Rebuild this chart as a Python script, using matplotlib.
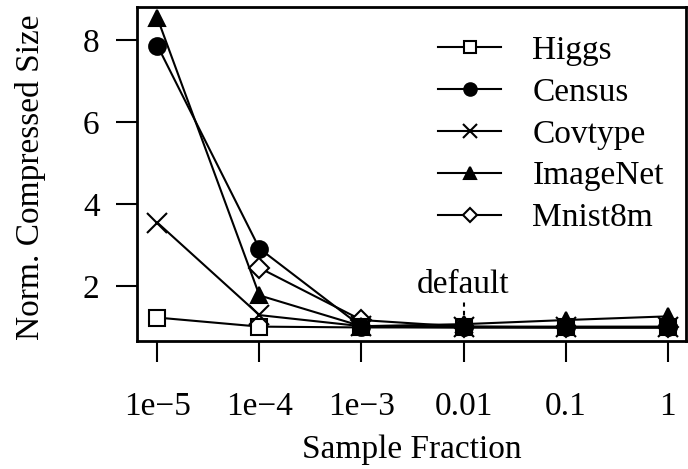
import numpy as np
from matplotlib import pyplot as plt

plt.rcParams['font.family'] = ['Liberation Serif', 'DejaVu Serif']

# sample fractions (x positions are evenly spaced in log scale)
fractions = ["1e\u22125", "1e\u22124", "1e\u22123", "0.01", "0.1", "1"]
xpos = np.arange(len(fractions))

higgs = [1.24, 1.02, 1.0, 1.0, 1.0, 1.0]
census = [7.86, 2.92, 1.02, 1.0, 1.0, 1.0]
covtype = [3.55, 1.3, 1.03, 1.02, 1.02, 1.02]
imagenet = [8.53, 1.78, 1.03, 1.08, 1.18, 1.27]
mnist8m = [np.nan, 2.45, 1.18, 1.02, 1.0, 1.0]

fig = plt.figure(figsize=(6.88, 4.69), dpi=100)
ax = fig.add_axes([137 / 688, 1 - 341 / 469, 549 / 688, 334 / 469])

style = dict(color='black', lw=1.5, markersize=12, markeredgewidth=1.5)
ax.plot(xpos, higgs, marker='s', mfc='white', label="Higgs", zorder=3, **style)
ax.plot(xpos, census, marker='o', mfc='black', label="Census", zorder=4, **style)
ax.plot(xpos, covtype, marker='x', label="Covtype", color='black', lw=1.5,
        markersize=14, markeredgewidth=1.5, zorder=3)
ax.plot(xpos, imagenet, marker='^', mfc='black', label="ImageNet", zorder=4, **style)
ax.plot(xpos, mnist8m, marker='D', mfc='white', label="Mnist8m", color='black',
        lw=1.5, markersize=10, markeredgewidth=1.5, zorder=2)

# default marker
ax.plot([3, 3], [1.3, 1.62], color='black', lw=1.5, ls=(0, (2, 2)))
ax.text(3, 1.66, "default", ha='center', va='bottom', fontsize=24)

ax.set_xlim(-0.2, 5.18)
ax.set_ylim(0.67, 8.8)
ax.set_xticks(xpos)
ax.set_xticklabels(fractions)
ax.set_yticks([2, 4, 6, 8])
ax.tick_params(direction='out', length=15, width=1.5, labelsize=24)
ax.tick_params(axis='x', pad=21)
ax.tick_params(axis='y', pad=12)
for s in ax.spines.values():
    s.set_linewidth(2)
ax.set_xlabel("Sample Fraction", fontsize=24)
ax.set_ylabel("Norm. Compressed Size", fontsize=24)
ax.xaxis.set_label_coords(0.5, -0.28)
ax.yaxis.set_label_coords(-0.165, 0.49)

ax.legend(loc='upper right', frameon=False, fontsize=24, handlelength=1.9,
          labelspacing=0.34, borderaxespad=0.1, handletextpad=0.93,
          markerscale=0.75, bbox_to_anchor=(0.99, 0.965))

fig.savefig("out.png")
